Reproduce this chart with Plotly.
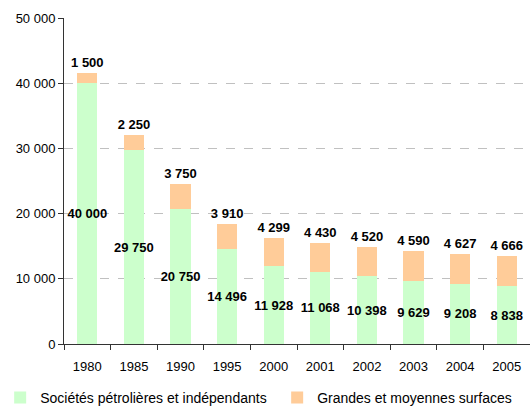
import plotly.graph_objects as go

years = ["1980", "1985", "1990", "1995", "2000", "2001", "2002", "2003", "2004", "2005"]
petrolieres = [40000, 29750, 20750, 14496, 11928, 11068, 10398, 9629, 9208, 8838]
gms = [1500, 2250, 3750, 3910, 4299, 4430, 4520, 4590, 4627, 4666]
y_ticks = [0, 10000, 20000, 30000, 40000, 50000]

label_font = dict(family="Liberation Sans, Arial", size=13, color="black")

fig = go.Figure()
fig.add_trace(go.Bar(
    x=years, y=petrolieres, name="Sociétés pétrolières et indépendants",
    marker=dict(color="#CCFFCC", line=dict(width=0)),
    texttemplate="<b>%{y:,}</b>", textposition="inside", insidetextanchor="middle",
    textangle=0, constraintext="none", textfont=label_font, legendwidth=232,
))
fig.add_trace(go.Bar(
    x=years, y=gms, name="Grandes et moyennes surfaces",
    marker=dict(color="#FFCC99", line=dict(width=0)),
    texttemplate="<b>%{y:,}</b>", textposition="outside",
    textangle=0, constraintext="none", textfont=label_font, cliponaxis=False,
    legendwidth=200,
))

fig.update_layout(
    barmode="stack", bargap=0.57,
    width=530, height=414,
    margin=dict(l=64, r=0, t=18, b=68),
    paper_bgcolor="white", plot_bgcolor="white",
    separators=", ",
    font=dict(family="Liberation Sans, Arial", size=12, color="black"),
    showlegend=True,
    legend=dict(orientation="h", x=-0.137, y=-0.165,
                yanchor="middle", xanchor="left", font=dict(size=14), entrywidthmode="pixels",
                itemclick=False, traceorder="normal"),
    xaxis=dict(type="category", showline=True, linecolor="#333333", linewidth=1,
               ticks="outside", tickson="boundaries", ticklen=5, tickcolor="#333333",
               tickfont=dict(size=13), showgrid=False, ticklabelstandoff=10),
    yaxis=dict(range=[0, 50000], tickvals=y_ticks, tickformat=",d",
               showline=True, linecolor="#333333", linewidth=1,
               ticks="outside", ticklen=5, tickcolor="#333333",
               showgrid=True, gridcolor="#C0C0C0", griddash="dash", gridwidth=1,
               zeroline=False, tickfont=dict(size=13)),
)

fig.write_html("out.html")
